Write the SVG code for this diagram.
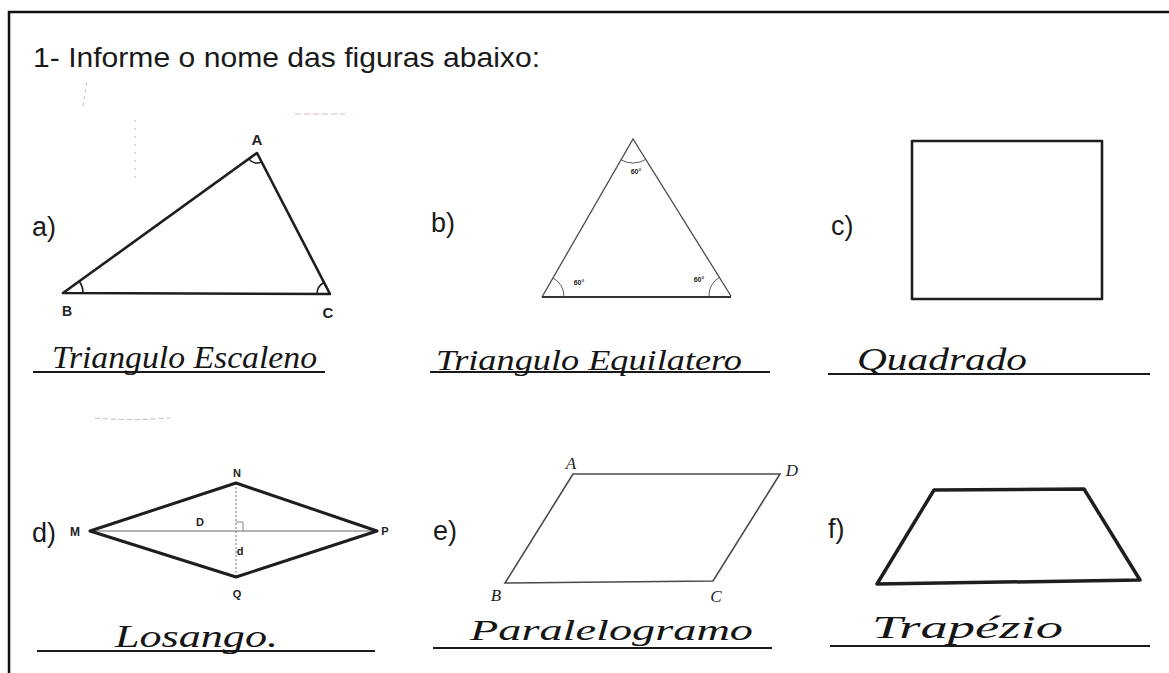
<svg xmlns="http://www.w3.org/2000/svg" width="1169" height="673" viewBox="0 0 1169 673">
<style>
.lbl{font-family:"Liberation Sans",Arial,sans-serif;font-size:27px;fill:#1a1a1a}
.ttl{font-family:"Liberation Sans",Arial,sans-serif;font-size:28px;fill:#1a1a1a}
.pt{font-family:"Liberation Sans",Arial,sans-serif;font-weight:bold;fill:#222;text-anchor:middle}
.it{font-family:"Liberation Serif","Times New Roman",serif;font-style:italic;font-size:17px;fill:#222;text-anchor:middle}
.hw{font-family:"Liberation Serif","DejaVu Serif",serif;font-style:italic;fill:#151515}
.ans{stroke:#1a1a1a;stroke-width:2.2;fill:none}
.bold{stroke:#1e1e1e;fill:none;stroke-linejoin:round}
.thin{stroke:#4a4a4a;fill:none}
.faint{stroke:#bbb;fill:none;stroke-width:1}
</style>
<rect width="1169" height="673" fill="#fff"/>
<g id="frame">
<path d="M9,673 V12 H1169" stroke="#111" stroke-width="2.5" fill="none"/>
</g>
<g id="marks">
<path class="faint" d="M83,106 L87,80" stroke-dasharray="3 4"/>
<path class="faint" d="M135,120 V182" stroke-dasharray="2 6"/>
<path d="M295,114 H345" stroke="#e3b8c0" stroke-width="1" stroke-dasharray="6 3"/>
<path class="faint" d="M95,418 Q130,421 170,418" stroke-dasharray="5 3"/>
</g>
<g id="title">
<text class="ttl" x="33" y="67" textLength="507" lengthAdjust="spacingAndGlyphs">1- Informe o nome das figuras abaixo:</text>
</g>
<g id="fig-a">
<text class="lbl" x="32" y="236">a)</text>
<polygon class="bold" stroke-width="2.6" points="257,153 63,293 330,294"/>
<path class="bold" stroke-width="1.6" d="M248.9,158.9 A10,10 0 0 0 261.6,161.9 M79.2,281.3 A20,20 0 0 1 83,293.1 M324,282.5 A13,13 0 0 0 317,293.9"/>
<text class="pt" x="257" y="145" font-size="15">A</text>
<text class="pt" x="67" y="316" font-size="14">B</text>
<text class="pt" x="328" y="318" font-size="15">C</text>
</g>
<g id="fig-b">
<text class="lbl" x="431" y="232">b)</text>
<path class="thin" stroke-width="1.3" d="M542,297 L633,139 L731,296"/>
<path stroke="#333" stroke-width="1.8" d="M542,297 H731"/>
<path class="thin" stroke-width="0.9" d="M621,159.8 A24,24 0 0 0 645.7,159.4 M553,277.9 A22,22 0 0 1 564,297 M719.3,277.3 A22,22 0 0 0 709,296"/>
<text class="pt" x="636" y="174" font-size="7">60°</text>
<text class="pt" x="579" y="285" font-size="7">60°</text>
<text class="pt" x="699" y="282" font-size="7">60°</text>
</g>
<g id="fig-c">
<text class="lbl" x="831" y="235">c)</text>
<rect class="bold" stroke-width="2.6" x="912" y="141" width="190" height="158"/>
</g>
<g id="answers-row1">
<path class="ans" d="M33,372 H325 M430,372 H770 M828,374 H1150"/>
<text class="hw" x="52" y="368" font-size="32" textLength="265" lengthAdjust="spacingAndGlyphs">Triangulo Escaleno</text>
<text class="hw" x="436" y="370" font-size="30" textLength="306" lengthAdjust="spacingAndGlyphs">Triangulo Equilatero</text>
<text class="hw" x="857" y="370" font-size="32" textLength="170" lengthAdjust="spacingAndGlyphs">Quadrado</text>
</g>
<g id="fig-d">
<text class="lbl" x="32" y="542">d)</text>
<path stroke="#666" stroke-width="1" d="M90,531 H377"/>
<path stroke="#777" stroke-width="1" stroke-dasharray="2 2" d="M236,483 V577"/>
<path stroke="#777" stroke-width="0.9" fill="none" d="M236,522 H243 V531"/>
<polygon class="bold" stroke-width="3" points="90,531 236,483 377,531 236,577"/>
<text class="pt" x="237" y="477" font-size="11">N</text>
<text class="pt" x="75" y="536" font-size="12" fill="#2d4d4d">M</text>
<text class="pt" x="385" y="535" font-size="11">P</text>
<text class="pt" x="237" y="598" font-size="11">Q</text>
<text class="pt" x="200" y="526" font-size="11">D</text>
<text class="pt" x="240" y="555" font-size="11">d</text>
</g>
<g id="fig-e">
<text class="lbl" x="433" y="540">e)</text>
<polygon class="thin" stroke="#3a3a3a" stroke-width="1.6" points="573,474 780,474 713,581 505,583"/>
<text class="it" x="571" y="469">A</text>
<text class="it" x="792" y="476">D</text>
<text class="it" x="496" y="601">B</text>
<text class="it" x="716" y="602">C</text>
</g>
<g id="fig-f">
<text class="lbl" x="828" y="538">f)</text>
<polygon class="bold" stroke-width="3.5" points="934,490 1084,489 1140,580 877,584"/>
</g>
<g id="answers-row2">
<path class="ans" d="M37,651 H375 M433,648 H772 M830,646 H1150"/>
<text class="hw" x="115" y="647" font-size="32" textLength="163" lengthAdjust="spacingAndGlyphs">Losango.</text>
<text class="hw" x="470" y="640" font-size="30" textLength="283" lengthAdjust="spacingAndGlyphs">Paralelogramo</text>
<text class="hw" x="872" y="638" font-size="32" textLength="191" lengthAdjust="spacingAndGlyphs">Trapézio</text>
</g>
<g id="connectors"/>
</svg>
